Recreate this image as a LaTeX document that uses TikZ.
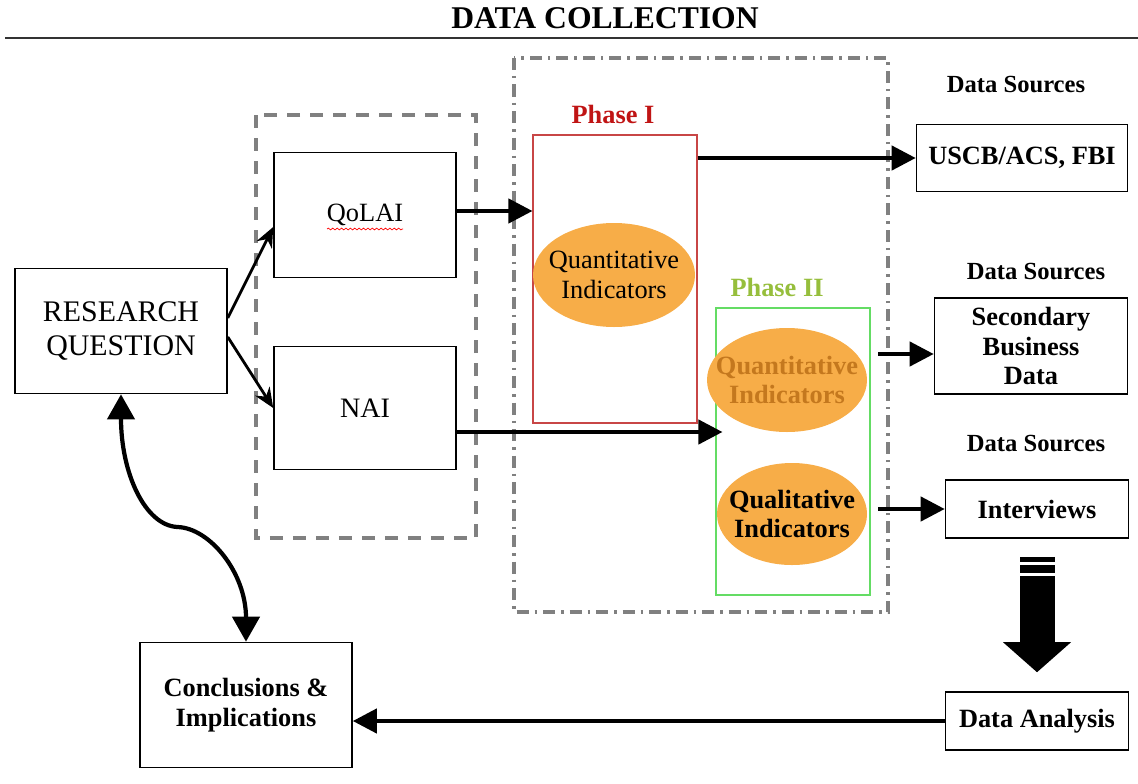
\documentclass[tikz,border=0pt]{standalone}
\usepackage{fontspec}
\setmainfont{Liberation Serif}
\usepackage{xcolor}
\usepackage{tikz}
\usetikzlibrary{shapes.geometric, arrows.meta, positioning, calc, decorations.pathmorphing}
\definecolor{ovalcolor}{RGB}{247, 173, 72}
\definecolor{phaseonecolor}{RGB}{192, 20, 20}
\definecolor{phaseoneline}{RGB}{200, 70, 70}
\definecolor{phasetwocolor}{RGB}{150, 190, 60}
\definecolor{phasetwoline}{RGB}{100, 220, 100}
\definecolor{groupcolor}{RGB}{128, 128, 128}
\definecolor{quantcolor}{RGB}{196, 120, 30}

\tikzset{
    box/.style={draw, line width=0.9pt, align=center, inner sep=2pt, font=\fontsize{15}{17}\selectfont\bfseries},
    oval/.style={ellipse, fill=ovalcolor, align=center, inner xsep=-0.3cm, inner ysep=0pt, font=\fontsize{15}{17}\selectfont},
    link/.style={line width=2.4pt, -{Triangle[length=0.48cm, width=0.48cm]}},
    thin link/.style={line width=1.6pt, -{Stealth[length=0.4cm, width=0.34cm]}},
    curvy link/.style={line width=2.4pt, {Triangle[length=0.5cm, width=0.54cm]}-{Triangle[length=0.5cm, width=0.54cm]}},
    srclabel/.style={font=\fontsize{14}{16}\selectfont\bfseries},
    phaselabel/.style={font=\fontsize{15}{17}\selectfont\bfseries},
}

\begin{document}
\begin{tikzpicture}
    \useasboundingbox (0, 0) rectangle (22.76, 15.66);

    % Title
    \node[font=\fontsize{18}{20}\selectfont\bfseries] (title) at (12.10, 15.30) {DATA COLLECTION};
    \draw[line width=1.2pt, black!80] (0.1, 14.90) -- (22.76, 14.90);

    % Left column
    \node[box, minimum width=4.24cm, minimum height=2.50cm, font=\fontsize{17}{19}\selectfont] (rq) at (2.42, 9.04) {RESEARCH\\QUESTION};
    \node[box, minimum width=4.24cm, minimum height=2.50cm] (concl) at (4.92, 1.56) {Conclusions \&\\Implications};

    % Indices group
    \draw[groupcolor, line width=2pt, dash pattern=on 0.26cm off 0.2cm] (5.12, 13.36) rectangle (9.52, 4.90);
    \node[box, minimum width=3.64cm, minimum height=2.50cm, font=\fontsize{15}{17}\selectfont] (qolai) at (7.30, 11.36) {QoLAI};
    \draw[red, line width=0.4pt, decorate, decoration={snake, amplitude=0.5pt, segment length=2.5pt}] ($(qolai.center)+(-0.76,-0.28)$) -- ++(1.52, 0);
    \node[box, minimum width=3.64cm, minimum height=2.46cm, font=\fontsize{16}{18}\selectfont] (nai) at (7.30, 7.50) {NAI};

    % Phases
    \draw[groupcolor, line width=2pt, dash pattern=on 0.24cm off 0.12cm on 0.05cm off 0.12cm] (10.28, 14.50) rectangle (17.76, 3.42);
    \node[phaselabel, text=phaseonecolor] (ph1) at (12.26, 13.38) {Phase I};
    \node[draw=phaseoneline, line width=0.6pt, minimum width=3.28cm, minimum height=5.76cm] (p1) at (12.30, 10.08) {};
    \node[oval, minimum width=3.24cm, minimum height=2.08cm] (p1q) at (12.28, 10.16) {Quantitative\\Indicators};

    \node[phaselabel, text=phasetwocolor] (ph2) at (15.54, 9.92) {Phase II};
    \node[draw=phasetwoline, line width=0.6pt, minimum width=3.08cm, minimum height=5.74cm] (p2) at (15.86, 6.63) {};
    \node[oval, minimum width=3.20cm, minimum height=2.08cm, text=quantcolor, font=\fontsize{15}{17}\selectfont\bfseries] (p2q) at (15.74, 8.06) {Quantitative\\Indicators};
    \node[oval, minimum width=3.00cm, minimum height=2.04cm, font=\fontsize{15}{17}\selectfont\bfseries] (p2l) at (15.84, 5.38) {Qualitative\\Indicators};

    % Data sources
    \node[srclabel] (ds1) at (20.32, 13.96) {Data Sources};
    \node[box, minimum width=4.22cm, minimum height=1.34cm] (uscb) at (20.44, 12.50) {USCB/ACS, FBI};
    \node[srclabel] (ds2) at (20.72, 10.22) {Data Sources};
    \node[box, minimum width=3.86cm, minimum height=1.92cm] (sec) at (20.62, 8.74) {Secondary\\Business\\Data};
    \node[srclabel] (ds3) at (20.72, 6.80) {Data Sources};
    \node[box, minimum width=3.66cm, minimum height=1.16cm] (iv) at (20.74, 5.48) {Interviews};
    \node[box, minimum width=3.66cm, minimum height=1.16cm] (da) at (20.74, 1.24) {Data Analysis};

    % Connectors
    \draw[thin link] ($(rq.east)+(0,0.26)$) -- ($(qolai.west)+(0,-0.24)$);
    \draw[thin link] ($(rq.east)+(0,-0.12)$) -- (nai.west);
    \coordinate (q1) at ($(qolai.east)+(0,0.08)$);
    \draw[link] (q1) -- (q1 -| p1.west);
    \coordinate (n1) at ($(nai.east)+(0,-0.48)$);
    \draw[link, shorten >=-0.14cm] (n1) -- (n1 -| p2.west);
    \draw[link] (p1.east |- uscb.west) -- (uscb.west);
    \coordinate (s2) at (17.56, 8.58);
    \draw[link] (s2) -- (s2 -| sec.west);
    \coordinate (s3) at (17.56, 5.48);
    \draw[link] (s3) -- (s3 -| iv.west);
    \draw[link] (da.west) -- (da.west -| concl.east);
    \draw[curvy link] (rq.south) .. controls (2.42, 6.2) and (2.9, 5.15) .. (3.55, 5.12) .. controls (4.2, 5.1) and (4.92, 4.2) .. (concl.north);

    % Block arrow
    \draw[line width=0.7cm, -{Triangle[length=0.6cm, width=1.36cm, line width=0pt]}] ($(iv.south)+(0,-0.36)$) -- ($(da.north)+(0,0.38)$);
    \draw[white, line width=0.06cm] ($(iv.south)+(-0.4,-0.49)$) -- ++(0.8, 0);
    \draw[white, line width=0.06cm] ($(iv.south)+(-0.4,-0.71)$) -- ++(0.8, 0);
\end{tikzpicture}
\end{document}
